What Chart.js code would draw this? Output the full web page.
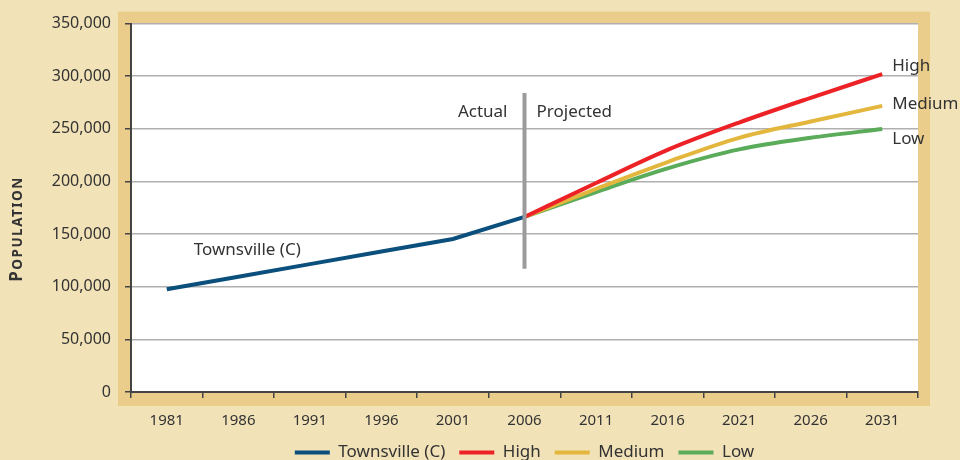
<!DOCTYPE html>
<html>
<head>
<meta charset="utf-8">
<script src="https://cdn.jsdelivr.net/npm/chart.js@4"></script>
<style>
  html, body { margin:0; padding:0; background:#f2e2b7; overflow:hidden; }
  #wrap { width:960px; height:460px; position:relative; }
</style>
</head>
<body>
<div id="wrap"><canvas id="c"></canvas></div>
<script>
const years = ['1981','1986','1991','1996','2001','2006','2011','2016','2021','2026','2031'];
const townsville = [97700, 109500, 121500, 133500, 145400, 166300, null, null, null, null, null];
const high   = [null, null, null, null, null, 166300, 198500, 230000, 256000, 279500, 302000];
const medium = [null, null, null, null, null, 166300, 193000, 218500, 241500, 257000, 271800];
const low    = [null, null, null, null, null, 166300, 190000, 212500, 230500, 241500, 249800];
const yTicks = [0, 50000, 100000, 150000, 200000, 250000, 300000, 350000];

const FONT = '"Noto Sans", "DejaVu Sans", sans-serif';
const TXT = '#333333';
const COLORS = { town:'#0b4f7c', high:'#ec2227', medium:'#e3b73d', low:'#5aab5a' };

const framePlugin = {
  id: 'frame',
  beforeDraw(chart) {
    const c = chart.ctx, a = chart.chartArea;
    c.save();
    c.fillStyle = '#f2e2b7';
    c.fillRect(0, 0, chart.width, chart.height);
    c.fillStyle = '#eacd8a';
    c.fillRect(a.left - 13, a.top - 12, (a.right - a.left) + 25, (a.bottom - a.top) + 26);
    c.fillStyle = '#ffffff';
    c.fillRect(a.left, a.top, a.right - a.left, a.bottom - a.top);
    // y axis title in small caps
    c.translate(17, 229);
    c.rotate(-Math.PI / 2);
    c.fillStyle = TXT;
    c.textBaseline = 'middle';
    c.textAlign = 'left';
    try { c.letterSpacing = '1.5px'; } catch (e) {}
    c.font = 'bold 17px ' + FONT;
    const wP = c.measureText('P').width;
    c.font = 'bold 13.5px ' + FONT;
    const wR = c.measureText('OPULATION').width;
    const start = -(wP + wR) / 2;
    c.font = 'bold 17px ' + FONT;
    c.fillText('P', start, 0);
    c.font = 'bold 13.5px ' + FONT;
    c.fillText('OPULATION', start + wP, 1);
    c.restore();
  }
};

const notePlugin = {
  id: 'notes',
  afterDatasetsDraw(chart) {
    const c = chart.ctx, xs = chart.scales.x, ys = chart.scales.y;
    const x06 = xs.getPixelForValue(5);
    c.save();
    c.strokeStyle = '#9b9b9d';
    c.lineWidth = 4;
    c.beginPath();
    c.moveTo(x06, ys.getPixelForValue(284000));
    c.lineTo(x06, ys.getPixelForValue(117000));
    c.stroke();
    c.fillStyle = TXT;
    c.font = '17px ' + FONT;
    c.textBaseline = 'middle';
    c.textAlign = 'right';
    c.fillText('Actual', x06 - 17, ys.getPixelForValue(265600));
    c.textAlign = 'left';
    c.fillText('Projected', x06 + 12, ys.getPixelForValue(265600));
    c.fillText('Townsville (C)', xs.getPixelForValue(0) + 27, ys.getPixelForValue(134700));
    const xe = xs.getPixelForValue(10) + 10;
    c.fillText('High', xe, ys.getPixelForValue(309200));
    c.fillText('Medium', xe, ys.getPixelForValue(273200));
    c.fillText('Low', xe, ys.getPixelForValue(240000));
    c.restore();
  }
};

function ds(label, data, color, smooth) {
  return {
    label, data,
    borderColor: color, backgroundColor: color,
    borderWidth: 4, pointRadius: 0, pointHoverRadius: 0,
    tension: 0, cubicInterpolationMode: smooth ? 'monotone' : 'default',
    spanGaps: false, fill: false
  };
}

new Chart(document.getElementById('c'), {
  type: 'line',
  data: {
    labels: years,
    datasets: [
      ds('Townsville (C)', townsville, COLORS.town, false),
      ds('High', high, COLORS.high, true),
      ds('Medium', medium, COLORS.medium, true),
      ds('Low', low, COLORS.low, true)
    ]
  },
  options: {
    responsive: true,
    maintainAspectRatio: false,
    animation: false,
    events: [],
    layout: { padding: { top: 22, right: 42, left: 0, bottom: -11 } },
    plugins: {
      tooltip: { enabled: false },
      legend: {
        position: 'bottom',
        fullSize: false,
        labels: {
          color: TXT,
          font: { family: FONT, size: 17 },
          boxWidth: 35,
          boxHeight: 4,
          padding: 14,
          generateLabels(chart) {
            return chart.data.datasets.map((d, i) => ({
              text: d.label, fillStyle: d.borderColor, strokeStyle: d.borderColor,
              lineWidth: 0, hidden: false, datasetIndex: i, fontColor: TXT
            }));
          }
        }
      }
    },
    scales: {
      x: {
        type: 'category',
        offset: true,
        afterFit(s) { s.height = s.height - 14; },
        grid: { offset: true, drawOnChartArea: false, color: '#444', tickLength: 6, lineWidth: 1.5 },
        border: { color: '#444', width: 2 },
        ticks: { color: TXT, font: { family: FONT, size: 15 }, padding: 14, maxRotation: 0, autoSkip: false }
      },
      y: {
        min: 0, max: 350000,
        afterFit(s) { s.width = 131; },
        afterBuildTicks(s) { s.ticks = yTicks.map(v => ({ value: v })); },
        ticks: {
          color: TXT, font: { family: FONT, size: 16 }, padding: 14,
          callback: v => v.toLocaleString('en-US')
        },
        grid: { color: '#b0b0b0', lineWidth: 1.5, tickColor: '#444', tickLength: 6 },
        border: { color: '#444', width: 2 }
      }
    }
  },
  plugins: [framePlugin, notePlugin]
});
</script>
</body>
</html>
